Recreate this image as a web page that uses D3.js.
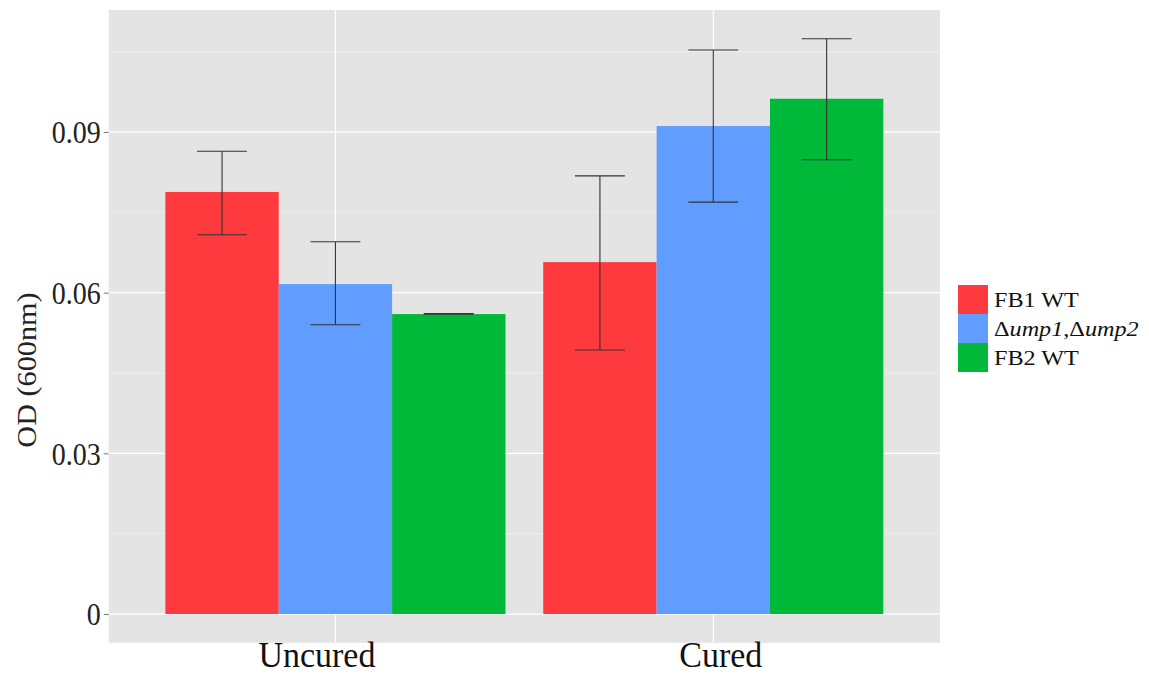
<!DOCTYPE html>
<html><head><meta charset="utf-8">
<script src="https://cdn.jsdelivr.net/npm/d3@7"></script>
<style>body{margin:0;background:#fff}svg{display:block}</style>
</head><body>
<svg id="c" width="1149" height="675"></svg>
<script>
const categories = ["Uncured", "Cured"];
const seriesNames = ["FB1 WT", "Δump1,Δump2", "FB2 WT"];
const colors = ["#fe3a3f", "#619cff", "#00b938"];
const meanFB1 = [0.0788, 0.0657];
const meanUmp = [0.0616, 0.0911];
const meanFB2 = [0.0560, 0.0962];
const lowFB1 = [0.0708, 0.0493];
const highFB1 = [0.0864, 0.0818];
const lowUmp = [0.0540, 0.0769];
const highUmp = [0.0695, 0.1053];
const lowFB2 = [0.0560, 0.0848];
const highFB2 = [0.0561, 0.1074];
const yTicks = [0, 0.03, 0.06, 0.09];
const yMinor = [0.015, 0.045, 0.075, 0.105];

const means = [meanFB1, meanUmp, meanFB2];
const lows = [lowFB1, lowUmp, lowFB2];
const highs = [highFB1, highUmp, highFB2];

const svg = d3.select("#c");
const L = 108.7, R = 940, T = 10, B = 642.8;
const serif = "'Liberation Serif','DejaVu Serif',serif";

const yMax = d3.max(highs.flat());
const pad = yMax * 0.05;
const y = d3.scaleLinear().domain([-pad, yMax + pad]).range([B, T]);

// discrete x: positions 1..n with 0.6 expansion
const x = d3.scaleLinear().domain([0.4, categories.length + 0.6]).range([L, R]);
const unit = x(2) - x(1);
const dodge = 0.9 * unit;
const barW = dodge / seriesNames.length;

svg.append("rect").attr("x", L).attr("y", T).attr("width", R - L).attr("height", B - T).attr("fill", "#e4e4e4");

const g = svg.append("g");
g.selectAll(".minor").data(yMinor).join("line")
  .attr("x1", L).attr("x2", R).attr("y1", d => y(d)).attr("y2", d => y(d))
  .attr("stroke", "#f0f0f0").attr("stroke-width", 0.8);
g.selectAll(".major").data(yTicks).join("line")
  .attr("x1", L).attr("x2", R).attr("y1", d => y(d)).attr("y2", d => y(d))
  .attr("stroke", "#ffffff").attr("stroke-width", 1.2);
g.selectAll(".vx").data(categories).join("line")
  .attr("x1", (d, i) => x(i + 1)).attr("x2", (d, i) => x(i + 1)).attr("y1", T).attr("y2", B)
  .attr("stroke", "#ffffff").attr("stroke-width", 1.2);

// bars
const bars = [];
categories.forEach((c, ci) => {
  seriesNames.forEach((s, si) => {
    const cx = x(ci + 1) - dodge / 2 + barW * (si + 0.5);
    bars.push({cx, v: means[si][ci], lo: lows[si][ci], hi: highs[si][ci], col: colors[si]});
  });
});
svg.append("g").selectAll("rect").data(bars).join("rect")
  .attr("x", d => d.cx - barW / 2).attr("width", barW)
  .attr("y", d => y(d.v)).attr("height", d => y(0) - y(d.v))
  .attr("fill", d => d.col);

// error bars
const eb = svg.append("g").attr("stroke", "#333").attr("stroke-width", 1.1).attr("fill", "none");
const capW = barW * 0.22;
bars.forEach(d => {
  eb.append("line").attr("x1", d.cx).attr("x2", d.cx).attr("y1", y(d.lo)).attr("y2", y(d.hi));
  eb.append("line").attr("x1", d.cx - capW).attr("x2", d.cx + capW).attr("y1", y(d.lo)).attr("y2", y(d.lo));
  eb.append("line").attr("x1", d.cx - capW).attr("x2", d.cx + capW).attr("y1", y(d.hi)).attr("y2", y(d.hi));
});

// y axis
const ya = svg.append("g").attr("transform", `translate(${L},0)`)
  .call(d3.axisLeft(y).tickValues(yTicks).tickFormat(d => d === 0 ? "0" : d3.format(".2f")(d)).tickSize(5).tickPadding(0));
ya.select(".domain").remove();
ya.selectAll(".tick line").attr("stroke", "#777");
ya.selectAll(".tick text").attr("font-family", serif).attr("font-size", 28).attr("fill", "#222")
  .attr("x", 0).attr("dy", "0.34em").attr("transform", "translate(-8,0) scale(1,1.12)");

// x axis labels
const xa = svg.append("g").attr("transform", `translate(0,${B})`)
  .call(d3.axisBottom(x).tickValues(categories.map((c, i) => i + 1)).tickFormat((d) => categories[d - 1]).tickSize(0).tickPadding(0));
xa.select(".domain").remove();
xa.selectAll(".tick text").attr("font-family", serif).attr("font-size", 33).attr("fill", "#111")
  .attr("y", 0).attr("dy", 0)
  .attr("transform", (d, i) => `translate(${i === 0 ? -19 : 7},24.5) scale(1.03,1.06)`);

// y title
svg.append("text").attr("transform", `translate(36,370) rotate(-90) scale(1.12,1)`)
  .attr("text-anchor", "middle").attr("font-family", serif).attr("font-size", 27).attr("fill", "#222")
  .text("OD (600nm)");

// legend
const lg = svg.append("g").attr("transform", "translate(958,285)");
const keyH = 29;
seriesNames.forEach((s, i) => {
  lg.append("rect").attr("x", 0).attr("y", i * keyH).attr("width", 30).attr("height", keyH).attr("fill", colors[i]);
  const t = lg.append("text").attr("transform", `translate(36,${i * keyH + keyH / 2 + 7.5}) scale(1.1,1)`)
    .attr("font-family", serif).attr("font-size", 22).attr("fill", "#111");
  if (s.includes("ump")) {
    s.split(",").forEach((part, pi) => {
      if (pi > 0) t.append("tspan").text(",");
      t.append("tspan").text(part[0]);
      t.append("tspan").attr("font-style", "italic").text(part.slice(1));
    });
  } else {
    t.text(s);
  }
});
</script>
</body></html>
